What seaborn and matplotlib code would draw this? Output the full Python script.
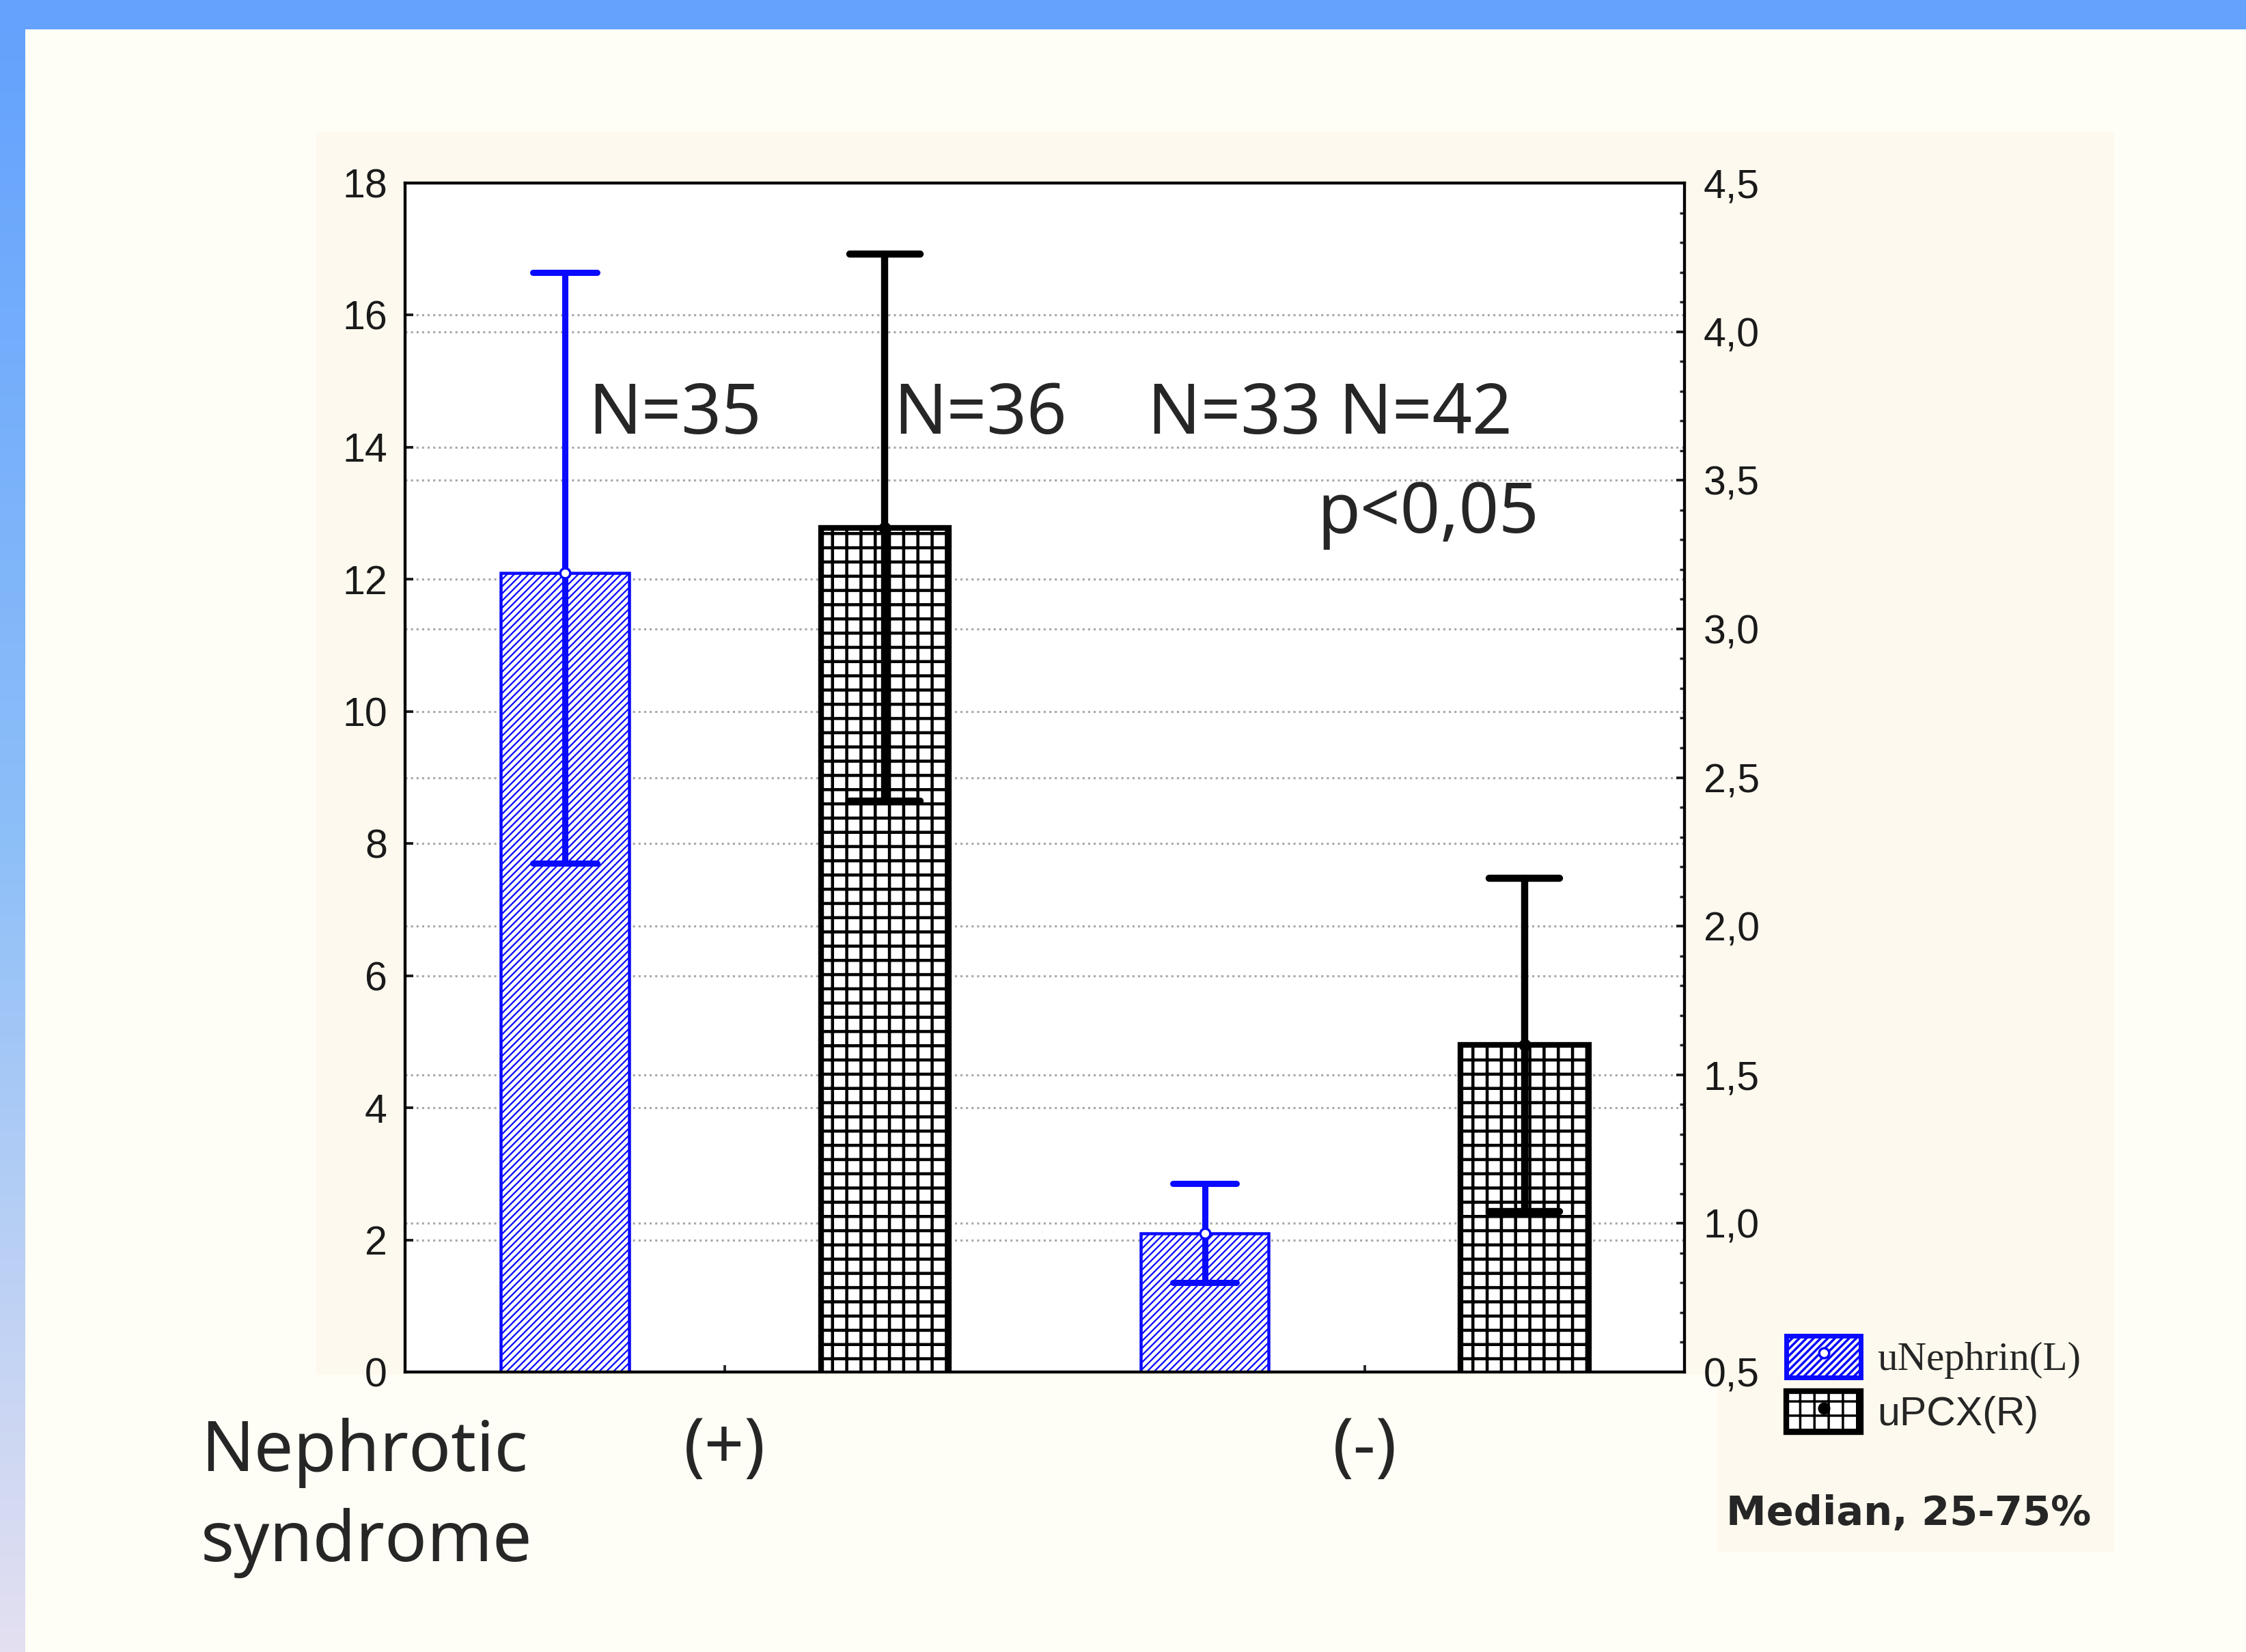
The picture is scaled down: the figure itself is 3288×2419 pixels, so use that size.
import numpy as np
import pandas as pd
import matplotlib.pyplot as plt
import seaborn as sns
from matplotlib.patches import Rectangle, Patch
from matplotlib.lines import Line2D
from matplotlib.colors import LinearSegmentedColormap
from matplotlib.transforms import blended_transform_factory

# --- data (median with 25-75% range) ---
groups = ["(+)", "(-)"]
markers = ["uNephrin(L)", "uPCX(R)"]

nephrin_q25 = [7.7, 1.35]
nephrin_median = [12.1, 2.1]
nephrin_q75 = [16.65, 2.85]

pcx_q25 = [2.42, 1.04]
pcx_median = [3.34, 1.60]
pcx_q75 = [4.26, 2.16]

n_labels = ["N=35", "N=36", "N=33 N=42"]
p_label = "p<0,05"
left_ticks = [0, 2, 4, 6, 8, 10, 12, 14, 16, 18]
right_ticks = [0.5, 1.0, 1.5, 2.0, 2.5, 3.0, 3.5, 4.0, 4.5]

BLUE = "#0a0aff"
BLACK = "#000000"
W, H, DPI = 3288, 2419, 250


def long_table(marker, q25, med, q75):
    # three values per bar: median = middle one, 0-100 pct interval = quartiles
    rows = []
    for g, a, b, c in zip(groups, q25, med, q75):
        for v in (a, b, c):
            rows.append({"group": g, "marker": marker, "value": v})
    return pd.DataFrame(rows)


def hatch_width(patches, lw):
    for p in patches:
        if hasattr(p, "set_hatch_linewidth"):
            p.set_hatch_linewidth(lw)


df_neph = long_table(markers[0], nephrin_q25, nephrin_median, nephrin_q75)
df_pcx = long_table(markers[1], pcx_q25, pcx_median, pcx_q75)

sns.set_style("white")
plt.rcParams["font.family"] = ["Liberation Sans", "DejaVu Sans"]
plt.rcParams["hatch.linewidth"] = 1.0

fig = plt.figure(figsize=(W / DPI, H / DPI), dpi=DPI, facecolor="#fffef6")

# slide decoration: blue top bar, gradient left strip, warm chart panel
fig.patches.append(Rectangle((0, 1 - 43 / H), 1, 43 / H, transform=fig.transFigure,
                             facecolor="#64a2fd", edgecolor="none", zorder=-2))
strip = fig.add_axes([0, 0, 37 / W, 1 - 43 / H])
grad = LinearSegmentedColormap.from_list("strip", ["#64a2fd", "#8dbff8", "#e4e0f1"])
strip.imshow(np.linspace(0, 1, 256).reshape(-1, 1), cmap=grad, aspect="auto")
strip.axis("off")
fig.patches.append(Rectangle((463 / W, 1 - 2013 / H), (3095 - 463) / W, (2013 - 193) / H,
                             transform=fig.transFigure, facecolor="#fef9ee",
                             edgecolor="none", zorder=-2))
fig.patches.append(Rectangle((2514 / W, 1 - 2273 / H), (3095 - 2514) / W, (2273 - 2013) / H,
                             transform=fig.transFigure, facecolor="#fef9ee",
                             edgecolor="none", zorder=-2))

ax = fig.add_axes([593 / W, 1 - 2009 / H, (2466 - 593) / W, (2009 - 268) / H])
ax.set_facecolor("white")
ax2 = ax.twinx()

with plt.rc_context({"hatch.linewidth": 0.65}):
    sns.barplot(data=df_neph, x="group", y="value", hue="marker", hue_order=markers,
                order=groups, estimator="median", errorbar=("pi", 100),
                width=1.0, gap=0.6, dodge=True, palette={m: "white" for m in markers},
                edgecolor=BLUE, linewidth=1.3, hatch="////////", capsize=0.2,
                err_kws={"color": BLUE, "linewidth": 2.6}, legend=False, ax=ax)
hatch_width(ax.patches, 0.65)

with plt.rc_context({"hatch.linewidth": 1.3}):
    sns.barplot(data=df_pcx, x="group", y="value", hue="marker", hue_order=markers,
                order=groups, estimator="median", errorbar=("pi", 100),
                width=1.0, gap=0.6, dodge=True, palette={m: "white" for m in markers},
                edgecolor=BLACK, linewidth=2.4, hatch="++", capsize=0.22,
                err_kws={"color": BLACK, "linewidth": 3.0}, legend=False, ax=ax2)
hatch_width(ax2.patches, 1.3)

# median markers on top of the bars
for axis, mfc, mec in [(ax, "white", BLUE), (ax2, BLACK, BLACK)]:
    xs = [p.get_x() + p.get_width() / 2 for p in axis.patches]
    ys = [p.get_height() for p in axis.patches]
    axis.plot(xs, ys, "o", ms=4.2, mfc=mfc, mec=mec, mew=1.0, zorder=5)

ax.set_xlim(-0.5, 1.5)
ax.set_ylim(0, 18)
ax2.set_ylim(0.5, 4.5)

# dotted grid for both scales, kept behind the bars
grid_kw = dict(color="#a9a9a9", linewidth=0.9, linestyle=(0, (1, 1.6)), zorder=0.5)
for v in left_ticks[1:-1]:
    ax.axhline(v, **grid_kw)
trans = blended_transform_factory(ax.transAxes, ax2.transData)
for v in right_ticks[1:-1]:
    ax.plot([0, 1], [v, v], transform=trans, **grid_kw)

ax.set_yticks(left_ticks)
ax.set_yticklabels([str(v) for v in left_ticks])
ax2.set_yticks(right_ticks)
ax2.set_yticklabels([f"{v:.1f}".replace(".", ",") for v in right_ticks])
ax2.set_yticks(np.arange(0.5, 4.55, 0.1), minor=True)

ax.set_xticks(range(len(groups)))
ax.set_xticklabels(groups, family=["Noto Sans", "DejaVu Sans"], fontsize=29.5)

ax.tick_params(axis="y", direction="in", length=3.5, width=1.1, labelsize=17, pad=7.5,
               colors="#1a1a1a", left=True, right=False)
ax.tick_params(axis="x", direction="in", length=3.0, width=1.1, pad=18, bottom=True)
ax2.tick_params(axis="y", which="major", direction="in", length=3.5, width=1.1,
                labelsize=17, pad=8, colors="#1a1a1a")
ax2.tick_params(axis="y", which="minor", direction="in", length=2.0, width=1.0)

for axis in (ax, ax2):
    axis.set_xlabel("")
    axis.set_ylabel("")
    axis.grid(False)
    for s in axis.spines.values():
        s.set_visible(True)
        s.set_color("black")
        s.set_linewidth(1.2)

# annotations
txt_font = ["Noto Sans", "DejaVu Sans"]
for label, xpos in zip(n_labels, [0.1430, 0.3820, 0.5804]):
    ax2.text(xpos, 0.789, label, transform=ax.transAxes, fontsize=29.5,
             family=txt_font, va="baseline", ha="left")
ax2.text(0.713, 0.706, p_label, transform=ax.transAxes, fontsize=29.5,
         family=txt_font, va="baseline", ha="left")

fig.text(294 / W, 1 - 2154 / H, "Nephrotic", fontsize=29.5, family=txt_font, va="baseline")
fig.text(294 / W, 1 - 2286 / H, "syndrome", fontsize=29.5, family=txt_font, va="baseline")
fig.text(2527 / W, 1 - 2233 / H, "Median, 25-75%", fontsize=17, family="DejaVu Sans",
         fontweight="bold", va="baseline")

with plt.rc_context({"hatch.linewidth": 0.65}):
    h_neph = Patch(facecolor="white", edgecolor=BLUE, hatch="////////", linewidth=2.0)
with plt.rc_context({"hatch.linewidth": 1.3}):
    h_pcx = Patch(facecolor="white", edgecolor=BLACK, hatch="++", linewidth=2.4)
handles = [
    (h_neph, Line2D([], [], marker="o", ls="none", ms=4.2, mfc="white", mec=BLUE)),
    (h_pcx, Line2D([], [], marker="o", ls="none", ms=4.2, mfc=BLACK, mec=BLACK)),
]
leg = fig.legend(handles, markers, loc="upper left", bbox_to_anchor=(2615 / W, 1 - 1956 / H),
                 bbox_transform=fig.transFigure, frameon=False, fontsize=17,
                 handlelength=1.85, handleheight=1.2, labelspacing=0.3,
                 handletextpad=0.4, borderpad=0, borderaxespad=0)
leg.get_texts()[0].set_family(["Liberation Serif", "DejaVu Serif"])

fig.savefig("out.png", dpi=DPI, facecolor=fig.get_facecolor())
